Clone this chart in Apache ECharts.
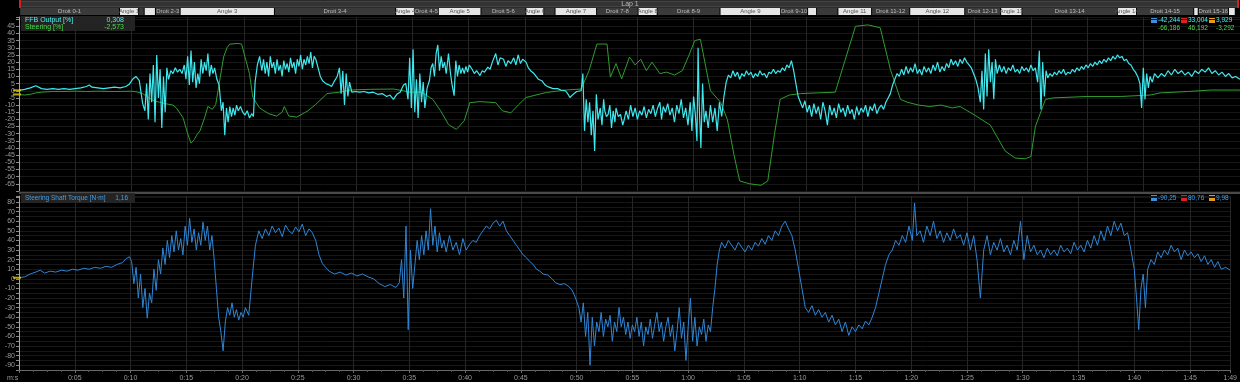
<!DOCTYPE html>
<html><head><meta charset="utf-8">
<script src="https://cdn.jsdelivr.net/npm/echarts@6/dist/echarts.min.js"></script>
<style>html,body{margin:0;padding:0;background:#000;}#c{width:1240px;height:382px;}</style>
</head><body><div id="c"></div>
<script>
// ---- DATA ----
const ffb = [[0,0.3],[0.5,1],[1,2],[1.5,3.5],[2,1.5],[2.5,1],[3,1.5],[3.5,1],[4,1.5],[4.5,1],[5,1.5],[5.5,2],[6,3],[6.25,4],[6.5,2.5],[7,2],[7.5,1.5],[8,2],[8.5,2.5],[9,2],[9.5,3],[9.8,4.5],[10.1,8],[10.4,10],[10.7,7],
[11.0,-9],[11.2,-14],[11.35,5],[11.5,-20],[11.65,12],[11.8,-8],[11.95,18],[12.1,-22],[12.25,25],[12.4,-5],[12.55,15],[12.7,-26],[12.85,10],[13.0,-15],[13.15,16],[13.3,8],[13.5,14],[13.7,12],[13.9,16],[14.1,13],[14.3,15],[14.5,12],[14.7,18],[14.85,8],[15.0,24],[15.15,4],[15.3,28],[15.45,6],[15.6,20],[15.75,2],[15.9,12],[16.05,5],[16.2,22],[16.35,12],[16.5,20],[16.65,14],[16.8,26],[16.95,10],[17.1,18],[17.25,12],[17.4,16],[17.6,8],[17.8,4],[18.0,-14],[18.15,-8],[18.3,-31],[18.45,-12],[18.6,-22],[18.75,-11],[18.9,-18],[19.05,-12],[19.2,-17],[19.35,-10],[19.5,-14],[19.7,-11],[19.9,-15],[20.1,-17],[20.3,-14],[20.5,-19],[20.7,-16],[20.85,-18],[21.0,6],[21.2,18],[21.4,24],
[21.6,14],[21.75,22],[21.9,12],[22.05,20],[22.2,10],[22.35,24],[22.5,16],[22.65,20],[22.8,12],[22.95,22],[23.1,14],[23.25,18],[23.4,10],[23.55,21],[23.7,15],[23.85,19],[24.0,13],[24.15,23],[24.3,16],[24.45,20],[24.6,12],[24.75,22],[24.9,17],[25.05,25],[25.2,15],[25.35,22],[25.5,18],[25.65,24],[25.8,19],[25.95,27],[26.1,16],[26.25,24],[26.4,22],[26.6,16],[26.8,10],[27.0,7],[27.3,5],[27.6,4],[27.8,3],[28.0,6],[28.3,10],
[28.5,16],[28.65,-2],[28.8,14],[28.95,-10],[29.1,12],[29.25,-4],[29.4,6],[29.6,-1],[29.9,-0.5],[30.3,-1],[30.7,-0.5],[31.1,-1.5],[31.5,-1],[31.9,-2.5],[32.3,-2],[32.7,-4],[33.0,-3],[33.3,-6],[33.6,-2.5],[33.9,-1],[34.2,4],[34.4,5],[34.6,-6],[34.75,23],[34.9,-12],[35.05,29],[35.2,-15],[35.35,8],[35.5,-19],[35.65,12],[35.8,-8],[35.95,6],[36.1,-12],[36.3,2],[36.5,7],[36.65,16],[36.8,19],[36.95,10],[37.1,26],[37.25,32],[37.4,14],[37.55,24],[37.7,16],[37.85,20],[38.0,12],[38.2,26],[38.35,14],[38.5,5],[38.7,-3.5],[38.85,21],[39.0,10],[39.15,18],[39.3,12],[39.45,16],[39.6,12],[39.75,17],[39.9,13],[40.05,18],[40.3,15],[40.5,12],[40.7,14],[41.0,10.6],[41.2,14],[41.4,13],[41.7,16.5],[41.9,15],[42.1,20],[42.4,26],[42.6,18],[42.8,23],[43.1,22],[43.3,17],[43.5,21],[43.75,19],[44.0,23],[44.2,18],[44.4,25],[44.6,19],[44.8,22],[45.1,20],[45.3,16],[45.5,14],[45.8,12],[46.0,10],[46.2,8],[46.5,7],[46.8,4],[47.0,3],[47.2,2.4],[47.5,1.5],[47.9,1.5],[48.2,0.5],[48.6,0],[48.8,-2],[49.0,-4.7],[49.3,-2.4],[49.6,-0.5],[50.0,0],[50.15,12],[50.3,-28],[50.45,-6],[50.6,-22],[50.75,-8],[50.9,-31],[51.05,-14],[51.2,-42],[51.35,-2.4],[51.5,-20],[51.7,-12],[51.85,-24],[52.0,-6],[52.1,-14],[52.25,-18],[52.4,-16.5],[52.55,-10],[52.7,-26],[52.85,-14],[53.0,-22],[53.1,-12],[53.3,-18],[53.5,-16.5],[53.7,-24],[53.8,-21],[54.0,-14],[54.2,-20],
[54.4,-10],[54.6,-18],[54.8,-12],[55.0,-20],[55.2,-14],[55.4,-17],[55.6,-11],[55.8,-19],[56.0,-13],[56.2,-16],[56.4,-10],[56.6,-18],[56.8,-12],[57.0,-8],[57.15,-20],[57.3,-11],[57.5,-15],[57.7,-9],[57.9,-17],[58.1,-12],[58.3,-22],[58.5,-10],[58.7,-16],[58.9,-6],[59.1,-19],[59.3,-12],[59.5,-24],[59.7,-8],[59.85,-28],[60.0,-4],[60.15,-16],[60.3,-35],[60.4,30],[60.5,-10],[60.65,-40],[60.8,5],[60.95,-22],[61.1,-14],[61.3,-26],[61.5,-10],[61.7,-22],[61.9,-12],[62.1,-28],[62.3,-8],[62.5,-18],[62.7,-4],[62.9,6],
[63.1,11],[63.3,9],[63.5,14],[63.7,10],[63.9,13],[64.1,8],[64.3,12],[64.5,10],[64.7,14],[64.9,11],[65.1,13],[65.3,9],[65.5,12],[65.7,10],[65.9,14],[66.1,11],[66.3,12],[66.5,9],[66.7,13],[66.9,12],[67.1,15],[67.3,12],[67.5,14],[67.7,13],[67.9,16],[68.1,14],[68.3,18],[68.5,16],[68.7,21],[68.9,14],[69.1,5],[69.3,-4],[69.5,-8],
[69.7,-12],[69.9,-7],[70.1,-15],[70.3,-10],[70.5,-18],[70.7,-9],[70.9,-16],[71.1,-11],[71.3,-20],[71.5,-8],[71.7,-14],[71.9,-24],[72.1,-10],[72.3,-17],[72.5,-12],[72.7,-19],[72.9,-9],[73.1,-15],[73.3,-12],[73.5,-18],[73.7,-10],[73.9,-16],[74.1,-13],[74.3,-20],[74.5,-11],[74.7,-17],[74.9,-12],[75.1,-15],[75.3,-10],[75.5,-18],[75.7,-11],[75.9,-14],[76.1,-9],[76.3,-16],[76.5,-12],[76.7,-10],[76.9,-13],[77.1,-8],[77.3,-5],[77.5,-2],[77.7,4],[77.9,8],[78.1,12],
[78.3,10],[78.5,15],[78.7,11],[78.9,17],[79.1,12],[79.3,16],[79.5,13],[79.7,19],[79.9,12],[80.1,15],[80.3,11],[80.5,17],[80.7,13],[80.9,16],[81.1,12],[81.3,18],[81.5,14],[81.7,20],[81.9,13],[82.1,17],[82.3,14],[82.5,19],[82.7,16],[82.9,22],[83.1,18],[83.3,21],[83.5,17],[83.7,22],[83.9,19],[84.1,23],[84.3,20],[84.5,18],[84.7,16],[84.9,12],[85.1,8],[85.3,2],
[85.5,-8],[85.65,14],[85.8,-13],[85.95,26],[86.1,-4],[86.25,29],[86.4,6],[86.55,20],[86.7,-6],[86.85,22],[87.0,12],[87.2,18],
[87.4,13],[87.6,17],[87.8,12],[88.0,16],[88.2,14],[88.4,18],[88.6,13],[88.8,15],[89.0,12],[89.2,17],[89.4,14],[89.6,16],[89.8,13],[90.0,18],[90.2,14],[90.4,16],[90.6,6],[90.75,28],[90.9,-13],[91.05,20],[91.2,-4],[91.35,14],[91.5,9],
[91.7,12],[91.9,10],[92.1,13],[92.3,11],[92.5,14],[92.7,12],[92.9,15],[93.1,11],[93.3,13],[93.5,12],[93.7,15],[93.9,13],[94.1,16],[94.3,14],[94.5,17],[94.7,15],[94.9,18],[95.1,16],[95.3,19],[95.5,17],[95.7,20],[95.9,18],[96.1,21],[96.3,19],[96.5,22],[96.7,20],[96.9,23],[97.1,21],[97.3,24],[97.5,22],[97.7,25],[97.9,23],[98.1,24],[98.3,21],[98.5,22],[98.7,19],[98.9,18],[99.1,15],[99.3,13],[99.5,10],
[99.7,5],[99.85,-12],[100.0,16],[100.15,-6],[100.3,12],[100.45,2],[100.6,10],[100.8,6],[101.0,12],
[101.3,9],[101.6,12],[101.9,10],[102.2,14],[102.5,11],[102.8,15],[103.1,12],[103.4,14],[103.7,11],[104.0,13],[104.3,10],[104.6,14],[104.9,12],[105.2,15],[105.5,13],[105.8,16],[106.1,12],[106.4,14],[106.7,11],[107.0,13],[107.3,10],[107.6,12],[107.9,9],[108.2,10],[108.6,8]];

const steering = [[0,-2.6],[0.5,-3],[1,-2.5],[1.5,-1.5],[2,-1],[3,-0.5],[4,-0.5],[5,-0.3],[6,-0.5],[7,-0.3],[8,-0.5],[9,-0.5],[10,-0.3],[10.5,-0.8],[11,-2],[11.5,-4.7],[12,-7],[12.5,-8],[13,-9],[13.7,-10],[14,-12],[14.6,-19],[15,-30],[15.3,-36.6],[15.6,-34],[15.8,-31],[16.1,-28],[16.5,-19],[16.8,-11],[17.2,-13],[17.5,-9.5],[17.9,9.5],[18.2,23.6],[18.5,30],[18.75,32.6],[19.5,33],[19.8,32.6],[20.1,23.6],[20.5,12],[20.8,-4.7],[21.4,-12],[22.2,-16],[22.9,-17.7],[23.4,-15],[23.6,-11],[24,-17.7],[24.7,-18.4],[25.7,-14],[26.4,-9.5],[27.4,-2],[28.5,-1],[29.5,0.5],[31.25,1],[33.3,1.2],[34.2,0],[34.7,-1],[35.8,-1],[36.8,-6],[37.5,-14],[38.2,-23.6],[38.9,-27],[39.6,-21],[40.1,-8.3],[41,-7.6],[42.4,-8.3],[43,-14],[43.75,-15.4],[44.4,-10],[45.1,-4.7],[46.9,-1.2],[48.6,0.5],[50,1.2],[50.7,14],[51.4,32.6],[52.3,32.6],[52.6,9.5],[53.1,19],[53.6,8.3],[54.3,23.6],[54.8,18],[55.3,22],[55.8,14],[56.3,20],[57,12],[57.6,13],[58.3,11],[59,14],[59.6,25],[60.1,35],[60.6,36],[61,20],[61.5,0],[62.4,-8],[63,-20],[63.6,-45],[64.1,-63],[65,-65],[66,-66],[66.6,-63],[67.2,-30],[67.7,-6],[68.5,-3],[69.5,-2],[71,-1.5],[72.6,-1],[73.5,22],[74.4,45],[75.5,46],[76.6,44],[77.5,15],[78.4,-6],[79,-8],[80,-10],[81,-11],[82,-10],[83,-12],[83.7,-11],[85,-17],[86.4,-24],[87.7,-42],[88.6,-47],[89.5,-47.5],[90,-46],[90.4,-25],[91.3,-6],[92,-5],[95,-4],[98,-4],[100.6,-3],[101.5,-1.5],[104,-0.5],[106,0.5],[108.6,0.5]];

const torque = [[0,1.2],[0.5,2],[1,5],[1.5,7],[1.9,9],[2.3,6],[2.8,8],[3.3,7],[3.8,9],[4.3,8],[4.8,10],[5.3,9],[5.8,11],[6.3,10],[6.8,12],[7.3,11],[7.8,13],[8.3,12],[8.8,15],[9.3,17],[9.6,21],[9.9,23],[10.1,18],[10.3,-5],[10.5,12],[10.7,-20],[10.9,5],[11.1,-30],[11.3,-10],[11.5,-41],[11.7,-15],[11.9,-25],[12.1,10],[12.3,-12],[12.5,20],[12.7,5],[12.9,32],[13.1,15],[13.3,40],[13.5,22],[13.7,45],[13.9,28],[14.1,50],[14.3,30],[14.5,42],[14.7,25],[14.9,55],[15.1,35],[15.3,63],[15.5,38],[15.7,52],[15.9,30],[16.1,48],[16.3,35],[16.5,59],[16.7,40],[16.9,55],[17.1,30],[17.3,45],[17.5,20],[17.7,-10],[17.9,-40],[18.1,-55],[18.3,-75],[18.5,-45],[18.7,-30],[18.9,-38],[19.1,-25],[19.3,-40],[19.5,-32],[19.7,-43],[19.9,-35],[20.1,-40],[20.3,-30],[20.6,-38],[20.9,0],[21.2,35],[21.5,50],[21.8,42],[22.1,52],[22.4,45],[22.7,55],[23,48],[23.3,53],[23.6,44],[23.9,56],[24.2,50],[24.5,47],[24.8,54],[25.1,49],[25.4,57],[25.7,45],[26,52],[26.3,48],[26.6,40],[26.9,25],[27.2,16],[27.5,12],[27.8,8],[28.3,5],[28.8,7],[29.3,4],[29.8,6],[30.3,3],[30.8,5],[31.3,2],[31.8,0],[32.3,-5],[32.8,-8],[33.3,-6],[33.8,-9],[34.1,-4],[34.3,20],[34.5,-20],[34.7,55],[34.9,-53],[35.1,30],[35.3,-10],[35.5,15],[35.7,40],[35.9,20],[36.1,45],[36.3,25],[36.5,50],[36.7,30],[36.9,73],[37.1,35],[37.3,55],[37.5,28],[37.7,48],[37.9,32],[38.1,40],[38.3,28],[38.6,45],[38.9,30],[39.2,38],[39.5,25],[39.8,42],[40.1,30],[40.4,36],[40.7,40],[41,38],[41.3,45],[41.6,50],[41.9,55],[42.2,52],[42.5,58],[42.8,61],[43.1,55],[43.4,60],[43.7,50],[44,45],[44.3,40],[44.6,35],[44.9,30],[45.2,25],[45.5,22],[45.8,18],[46.1,15],[46.4,10],[46.7,8],[47,5],[47.4,4],[47.8,0],[48.1,-4],[48.5,-6],[48.9,-5],[49.3,-8],[49.6,-12],[49.9,-20],[50.2,-30],[50.4,-45],[50.6,-25],[50.8,-60],[51,-35],[51.2,-90],[51.4,-40],[51.6,-70],[51.8,-45],[52,-55],[52.2,-35],[52.4,-60],[52.6,-42],[52.8,-50],[53,-38],[53.2,-65],[53.4,-45],[53.6,-55],[53.8,-30],[54,-50],[54.2,-40],[54.4,-58],[54.6,-45],[54.8,-62],[55,-48],[55.2,-55],[55.4,-40],[55.6,-60],[55.8,-45],[56,-70],[56.2,-50],[56.4,-58],[56.6,-42],[56.8,-62],[57,-48],[57.2,-35],[57.4,-55],[57.6,-45],[57.8,-65],[58,-50],[58.2,-40],[58.4,-60],[58.6,-48],[58.8,-75],[59,-55],[59.2,-30],[59.4,-62],[59.6,-45],[59.8,-85],[60,-50],[60.2,-20],[60.4,-65],[60.6,-40],[60.8,-70],[61,-50],[61.2,-58],[61.4,-42],[61.6,-65],[61.8,-48],[62,-55],[62.2,-30],[62.4,-10],[62.6,15],[62.8,30],[63,38],[63.3,32],[63.6,40],[63.9,35],[64.2,30],[64.5,38],[64.8,33],[65.1,28],[65.4,35],[65.7,30],[66,38],[66.3,34],[66.6,42],[66.9,36],[67.2,45],[67.5,40],[67.8,50],[68.1,45],[68.4,55],[68.7,60],[69,52],[69.3,45],[69.6,30],[69.9,10],[70.2,-10],[70.5,-30],[70.8,-35],[71.1,-28],[71.4,-38],[71.7,-32],[72,-40],[72.3,-35],[72.6,-45],[72.9,-38],[73.2,-48],[73.5,-42],[73.8,-55],[74.1,-45],[74.4,-59],[74.7,-50],[75,-55],[75.3,-48],[75.6,-52],[75.9,-44],[76.2,-48],[76.5,-40],[76.8,-30],[77.1,-15],[77.4,0],[77.7,15],[78,25],[78.3,30],[78.6,40],[78.9,35],[79.2,45],[79.5,38],[79.8,55],[80.1,40],[80.3,79],[80.5,45],[80.8,50],[81.1,38],[81.4,55],[81.7,45],[82,60],[82.3,42],[82.6,50],[82.9,38],[83.2,48],[83.5,40],[83.8,52],[84.1,42],[84.4,46],[84.7,35],[85,48],[85.3,30],[85.6,45],[85.9,20],[86.2,-20],[86.5,30],[86.8,45],[87.1,25],[87.4,38],[87.7,30],[88,42],[88.3,28],[88.6,35],[88.9,25],[89.2,40],[89.5,30],[89.8,60],[90.1,20],[90.4,45],[90.7,28],[91,35],[91.3,25],[91.6,30],[91.9,22],[92.2,32],[92.5,25],[92.8,30],[93.1,24],[93.4,35],[93.7,28],[94,32],[94.3,26],[94.6,38],[94.9,30],[95.2,35],[95.5,28],[95.8,40],[96.1,32],[96.4,45],[96.7,35],[97,50],[97.3,40],[97.6,55],[97.9,45],[98.2,60],[98.5,50],[98.8,58],[99.1,45],[99.4,48],[99.7,30],[100,10],[100.2,-20],[100.4,-53],[100.6,-10],[100.8,5],[101,-30],[101.2,10],[101.5,20],[101.8,15],[102.1,28],[102.4,22],[102.7,30],[103,25],[103.3,35],[103.6,28],[103.9,32],[104.2,20],[104.5,30],[104.8,24],[105.1,28],[105.4,22],[105.7,26],[106,18],[106.3,24],[106.6,15],[106.9,20],[107.2,12],[107.5,18],[107.8,10],[108.2,12],[108.6,9]];

// segment names, starts, ends (s), kind: 0 = straight (dark), 1 = corner (light)
const segNames = ['Droit 0-1','Angle 1','','','Droit 2-3','Angle 3','Droit 3-4','Angle 4','Droit 4-5','Angle 5','Droit 5-6','Angle 6','','Angle 7','Droit 7-8','Angle 8','Droit 8-9','Angle 9','Droit 9-10','','','Angle 11','Droit 11-12','Angle 12','Droit 12-13','Angle 13','Droit 13-14','Angle 14','Droit 14-15','','Droit 15-16',''];
const segStart = [0.1,9.0,10.7,11.2,12.2,14.4,22.8,33.6,35.3,37.4,41.2,45.2,46.8,47.8,51.5,55.2,56.9,62.5,67.9,70.3,71.1,73.0,76.0,79.4,84.3,87.5,89.4,97.9,99.6,104.7,105.1,107.8];
const segEnd   = [9.0,10.7,11.2,12.2,14.4,22.8,33.6,35.3,37.4,41.2,45.2,46.8,47.8,51.5,55.2,56.9,62.5,67.9,70.3,71.1,73.0,76.0,79.4,84.3,87.5,89.4,97.9,99.6,104.7,105.1,107.8,108.4];
const segKind  = [0,1,0,1,0,1,0,1,0,1,0,1,0,1,0,1,0,1,0,1,0,1,0,1,0,1,0,1,0,1,0,1];

const topTicks = {min:-70, max:51.5, interval:5, labelMin:-65, labelMax:45};
const botTicks = {min:-95, max:86.3, interval:5, labelMin:-90, labelMax:80};
const tMax = 108.6;

const cursorFfb = 0.308, cursorSteer = -2.573, cursorTorque = 1.16;

// ---- CHART ----
const FONT = 'Liberation Sans';
const C_FFB = '#3ee8ee', C_STEER = '#2f9e2f', C_TORQUE = '#2f86d6';
const T_FFB = '#4af4f4', T_STEER = '#48dc48', T_TORQUE = '#3ea2f2';
const chart = echarts.init(document.getElementById('c'), null, {renderer:'canvas'});
const segData = segStart.map((s,i)=>[s, segEnd[i], segKind[i]]);
const fmtTime = v => { if (v<=0) return ''; const m=Math.floor(v/60), s=Math.round(v%60); return m+':'+(s<10?'0':'')+s; };

const xBase = (gi, showLabels) => ({
  type:'value', gridIndex:gi, min:0, max:tMax, interval:5,
  axisLine:{show:showLabels, onZero:false, lineStyle:{color:'#6a6a6a'}},
  axisTick:{show:showLabels, length:3, lineStyle:{color:'#6a6a6a'}},
  minorTick:{show:showLabels, splitNumber:4, length:2, lineStyle:{color:'#555'}},
  axisLabel:{show:showLabels, color:'#9a9a9a', fontSize:7, fontFamily:FONT, margin:5, formatter:fmtTime},
  splitLine:{show:true, lineStyle:{color:'#262626', width:1}}
});
const yBase = (gi, tk) => ({
  type:'value', gridIndex:gi, min:tk.min, max:tk.max, interval:tk.interval,
  axisLine:{show:true, onZero:false, lineStyle:{color:'#c8b400', width:1}},
  axisTick:{show:true, length:3, lineStyle:{color:'#8a8a8a'}},
  minorTick:{show:false},
  axisLabel:{color:'#9a9a9a', fontSize:7, fontFamily:FONT, margin:4,
    formatter:v => (v<tk.labelMin-0.01 || v>tk.labelMax+0.01 || (gi===1 && Math.round(v)%10!==0)) ? '' : String(v)},
  splitLine:{show:true, lineStyle:{color:'#171717', width:1}}
});
const txt = (text, x, y, fill, align, size) => ({type:'text', silent:true, z:20,
  style:{text, x, y, align:align||'left', verticalAlign:'middle', fill, font:(size||7)+'px '+FONT}});

chart.setOption({
  backgroundColor:'#000',
  animation:false,
  grid:[
    {left:19, right:0, top:17, height:174},
    {left:19, right:0, top:196, height:174},
    {left:19, right:2, top:8, height:7}
  ],
  xAxis:[ xBase(0,false), xBase(1,true),
    {type:'value', gridIndex:2, min:0, max:tMax, show:false} ],
  yAxis:[ yBase(0, topTicks), yBase(1, botTicks),
    {type:'value', gridIndex:2, min:0, max:1, show:false} ],
  series:[
    {name:'Steering [%]', type:'line', xAxisIndex:0, yAxisIndex:0, data:steering, showSymbol:false, symbol:'none',
     lineStyle:{color:C_STEER, width:1}, z:3},
    {name:'FFB Output [%]', type:'line', xAxisIndex:0, yAxisIndex:0, data:ffb, showSymbol:false, symbol:'none',
     lineStyle:{color:C_FFB, width:1.2}, z:4},
    {name:'Steering Shaft Torque [N·m]', type:'line', xAxisIndex:1, yAxisIndex:1, data:torque, showSymbol:false, symbol:'none',
     lineStyle:{color:C_TORQUE, width:1}, z:3},
    {type:'scatter', xAxisIndex:0, yAxisIndex:0, data:[[0,cursorFfb],[0,cursorSteer]], symbol:'rect', symbolSize:[8,2], symbolOffset:[-2,0],
     itemStyle:{color:'#e8d000'}, clip:false, z:10, silent:true},
    {type:'scatter', xAxisIndex:1, yAxisIndex:1, data:[[0,cursorTorque]], symbol:'rect', symbolSize:[8,2], symbolOffset:[-2,0],
     itemStyle:{color:'#e8d000'}, clip:false, z:10, silent:true},
    {type:'custom', xAxisIndex:2, yAxisIndex:2, data:segData, clip:false, silent:true,
     renderItem:(params, api) => {
       const a = api.coord([api.value(0), 1]);
       const b = api.coord([api.value(1), 0]);
       const kind = api.value(2);
       const name = segNames[params.dataIndex];
       const w = Math.max(1, b[0]-a[0]-1);
       return {type:'group', children:[
         {type:'rect', shape:{x:a[0], y:a[1], width:w, height:b[1]-a[1]},
          style:{fill: kind ? '#e6e6e6' : '#3a3a3a'}},
         {type:'text', style:{text:name, x:a[0]+w/2, y:(a[1]+b[1])/2, align:'center', verticalAlign:'middle',
           fill: kind ? '#555' : '#bdbdbd', font:'6px '+FONT}}
       ]};
     }}
  ],
  graphic:[
    {type:'rect', shape:{x:20, y:1, width:1218, height:6}, style:{fill:'#333', stroke:'#555', lineWidth:1}, silent:true},
    txt('Lap 1', 630, 4, '#bbb', 'center'),
    {type:'rect', shape:{x:19, y:0, width:2, height:8}, style:{fill:'#d02020'}},
    {type:'rect', shape:{x:1237, y:0, width:2, height:8}, style:{fill:'#d02020'}},
    {type:'rect', shape:{x:19, y:192, width:1221, height:2}, style:{fill:'#4a4a4a'}},
    {type:'rect', z:15, shape:{x:21, y:16, width:114, height:15}, style:{fill:'rgba(38,38,38,0.92)'}},
    txt('FFB Output [%]', 25, 20, T_FFB),
    txt('0,308', 124, 20, T_FFB, 'right'),
    txt('Steering [%]', 25, 27, T_STEER),
    txt('-2,573', 124, 27, T_STEER, 'right'),
    {type:'rect', shape:{x:1151, y:17, width:6, height:6}, style:{fill:'#3d8fe0'}},
    {type:'rect', shape:{x:1181, y:17, width:6, height:6}, style:{fill:'#e02020'}},
    {type:'rect', shape:{x:1209, y:17, width:6, height:6}, style:{fill:'#e89a20'}},
    txt('-42,244', 1158, 20, T_FFB, 'left', 6.5),
    txt('33,004', 1188, 20, T_FFB, 'left', 6.5),
    txt('3,929', 1216, 20, T_FFB, 'left', 6.5),
    txt('-66,186', 1158, 28, T_STEER, 'left', 6.5),
    txt('46,192', 1188, 28, T_STEER, 'left', 6.5),
    txt('-3,292', 1216, 28, T_STEER, 'left', 6.5),
    {type:'rect', z:15, shape:{x:21, y:193, width:114, height:10}, style:{fill:'rgba(38,38,38,0.92)'}},
    txt('Steering Shaft Torque [N·m]', 25, 198, T_TORQUE, 'left', 6.5),
    txt('1,16', 128, 198, T_TORQUE, 'right', 6.5),
    {type:'rect', shape:{x:1151, y:195, width:6, height:6}, style:{fill:'#3d8fe0'}},
    {type:'rect', shape:{x:1181, y:195, width:6, height:6}, style:{fill:'#e02020'}},
    {type:'rect', shape:{x:1209, y:195, width:6, height:6}, style:{fill:'#e89a20'}},
    txt('-90,25', 1158, 198, T_TORQUE, 'left', 6.5),
    txt('80,76', 1188, 198, T_TORQUE, 'left', 6.5),
    txt('9,98', 1216, 198, T_TORQUE, 'left', 6.5),
    txt('m:s', 7, 378, '#9a9a9a')
  ]
});
</script></body></html>
